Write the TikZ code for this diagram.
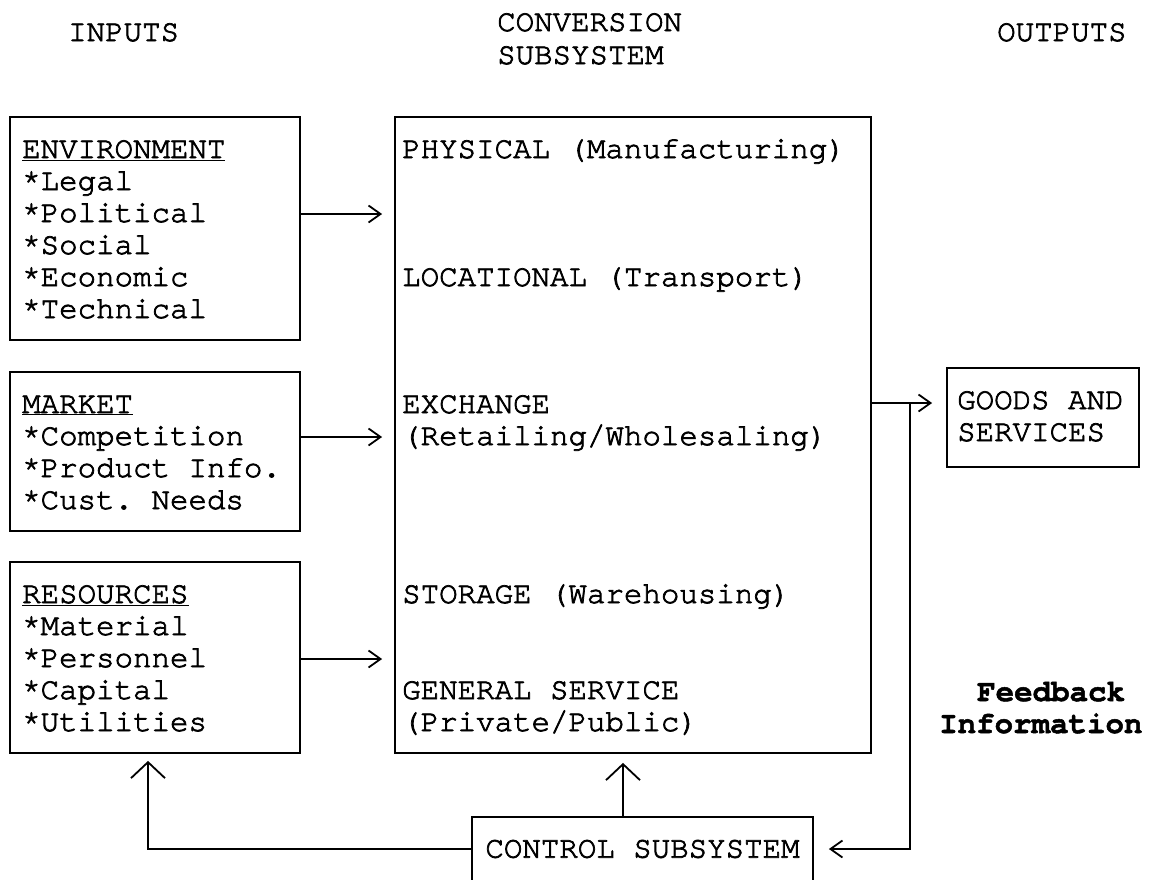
\documentclass[tikz,border=0pt]{standalone}
\usepackage{fontspec}
\newfontfamily\cur[FakeBold=2.4]{texgyrecursor-regular.otf}
\newfontfamily\curb[FakeBold=1.6]{texgyrecursor-bold.otf}
\usetikzlibrary{arrows.meta}
\begin{document}
\frenchspacing
\begin{tikzpicture}[x=1pt,y=-1pt,
  every node/.style={font=\fontsize{30.8}{32}\selectfont\cur\frenchspacing, inner sep=0pt},
  box/.style={draw, line width=1.8pt},
  txt/.style={anchor=base west},
  boldtxt/.style={anchor=base west, font=\fontsize{30.8}{32}\selectfont\curb},
  lnk/.style={line width=1.8pt},
  sidetip/.style={-{Straight Barb[length=12pt,width=17pt]}},
  uptip/.style={-{Straight Barb[length=16pt,width=34pt]}}]
\useasboundingbox (0,0) rectangle (1157,879);
% boxes
\node[box, minimum width=290pt, minimum height=223pt] (env) at (155,228.5) {};
\node[box, minimum width=290pt, minimum height=159pt] (market) at (155,451.5) {};
\node[box, minimum width=290pt, minimum height=191pt] (res) at (155,657.5) {};
\node[box, minimum width=476pt, minimum height=636pt] (conv) at (633,435) {};
\node[box, minimum width=192pt, minimum height=99pt] (goods) at (1043,417.5) {};
\node[box, minimum width=341pt, minimum height=64pt] (ctrl) at (642.5,849) {CONTROL SUBSYSTEM};
% titles
\node[txt] (tin) at (68,41) {INPUTS};
\node[txt] (tconv1) at (497,31) {CONVERSION};
\node[txt] (tconv2) at (497,64) {SUBSYSTEM};
\node[txt] (tout) at (997,41) {OUTPUTS};
% environment
\node[txt] (e0) at (22,158) {\underline{ENVIRONMENT}};
\node[txt] (e1) at (22,190) {*Legal};
\node[txt] (e2) at (22,222) {*Political};
\node[txt] (e3) at (22,254) {*Social};
\node[txt] (e4) at (22,286) {*Economic};
\node[txt] (e5) at (22,318) {*Technical};
% market
\node[txt] (m0) at (22,413) {\underline{MARKET}};
\node[txt] (m1) at (22,445) {*Competition};
\node[txt] (m2) at (22,477) {*Product Info.};
\node[txt] (m3) at (22,509) {*Cust. Needs};
% resources
\node[txt] (r0) at (22,603) {\underline{RESOURCES}};
\node[txt] (r1) at (22,635) {*Material};
\node[txt] (r2) at (22,667) {*Personnel};
\node[txt] (r3) at (22,699) {*Capital};
\node[txt] (r4) at (22,731) {*Utilities};
% conversion contents
\node[txt] (c1) at (402,158) {PHYSICAL (Manufacturing)};
\node[txt] (c2) at (402,286) {LOCATIONAL (Transport)};
\node[txt] (c3) at (402,413) {EXCHANGE};
\node[txt] (c4) at (402,445) {(Retailing/Wholesaling)};
\node[txt] (c5) at (402,603) {STORAGE (Warehousing)};
\node[txt] (c6) at (402,699) {GENERAL SERVICE};
\node[txt] (c7) at (402,731) {(Private/Public)};
% goods
\node[txt] (g1) at (957,409) {GOODS AND};
\node[txt] (g2) at (957,441) {SERVICES};
% feedback label
\node[boldtxt] (f1) at (977,701) {Feedback};
\node[boldtxt] (f2) at (939,733) {Information};
% helper coordinates
\coordinate (y1) at (0,214);
\coordinate (y2) at (0,437);
\coordinate (y3) at (0,659);
\coordinate (gy) at (0,403);
\coordinate (fb) at (910,403);
\coordinate (lx) at (148,0);
\coordinate (ux) at (623,0);
% connectors
\draw[lnk,sidetip,shorten >=12pt] (env.east |- y1) -- (conv.west |- y1);
\draw[lnk,sidetip,shorten >=12pt] (market.east |- y2) -- (conv.west |- y2);
\draw[lnk,sidetip,shorten >=12pt] (res.east |- y3) -- (conv.west |- y3);
\draw[lnk,sidetip,shorten >=14pt] (conv.east |- gy) -- (goods.west |- gy);
\draw[lnk,sidetip,shorten >=15pt] (fb) |- (ctrl.east);
\draw[lnk,uptip,shorten >=9pt] (ctrl.north -| ux) -- (conv.south -| ux);
\draw[lnk,uptip,shorten >=7pt] (ctrl.west) -| (res.south -| lx);
\end{tikzpicture}
\end{document}
